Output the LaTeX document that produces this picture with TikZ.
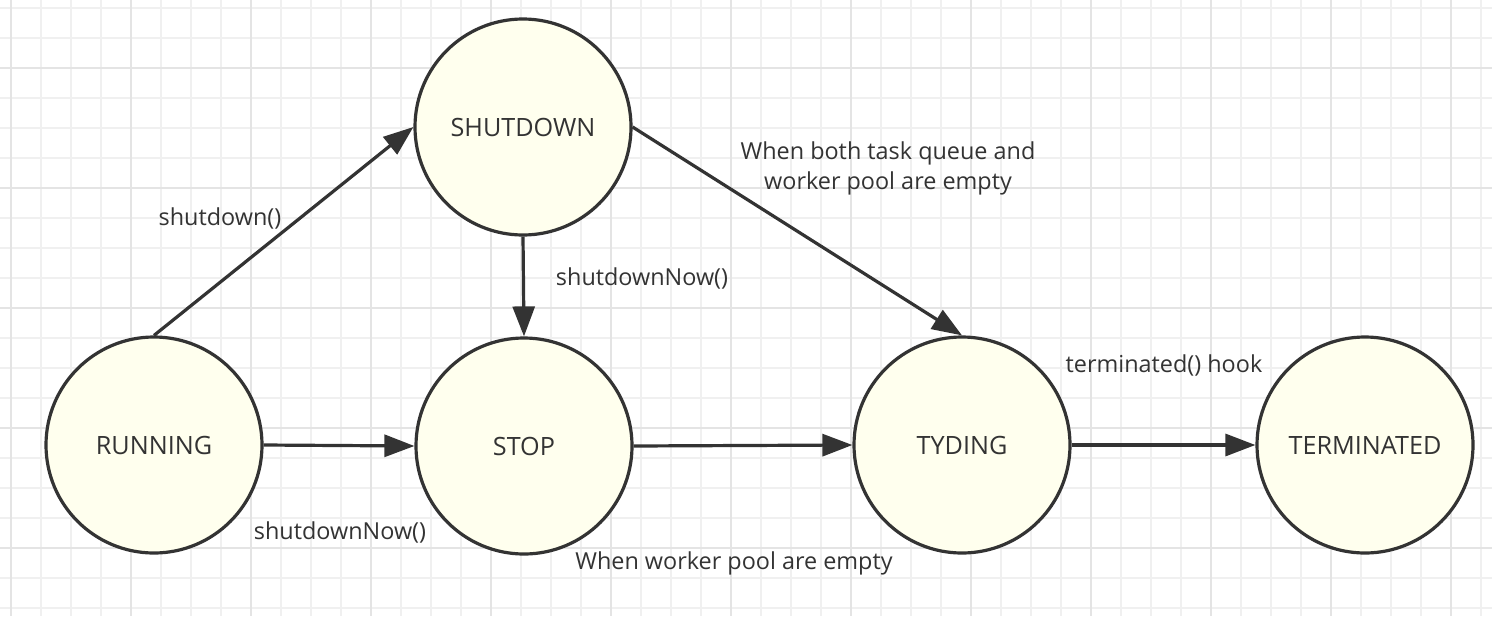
\documentclass[tikz,border=0pt]{standalone}
\usepackage{fontspec}
\setmainfont{Open Sans}
\usetikzlibrary{arrows.meta}
\definecolor{gridminor}{RGB}{240,240,240}
\definecolor{gridmajor}{RGB}{228,228,228}
\definecolor{statefill}{RGB}{255,255,238}
\definecolor{ink}{RGB}{51,51,51}
\begin{document}
\begin{tikzpicture}[x=0.5pt,y=-0.5pt,
  state/.style={circle,draw=ink,line width=1.6pt,fill=statefill,minimum size=108pt,inner sep=0pt,font=\fontsize{12.6}{14}\selectfont,text=ink},
  lbl/.style={font=\fontsize{11.7}{15}\selectfont,text=ink,inner sep=0pt,align=center},
  trans/.style={draw=ink,line width=1.6pt,-{Triangle[length=15pt,width=11pt]}},
  gridline/.style={line width=1pt}]
\fill[white] (0,0) rectangle (1492,616);
\useasboundingbox (0,0) rectangle (1492,616);
\foreach \x in {11,41,...,1491} \draw[gridminor,gridline] (\x,0) -- (\x,616);
\foreach \y in {8,38,...,616} \draw[gridminor,gridline] (0,\y) -- (1492,\y);
\foreach \x in {11,131,...,1491} \draw[gridmajor,gridline] (\x,0) -- (\x,616);
\foreach \y in {68,188,...,616} \draw[gridmajor,gridline] (0,\y) -- (1492,\y);

\node[state] (running) at (154,445) {RUNNING};
\node[state] (shutdown) at (523,127) {SHUTDOWN};
\node[state] (stop) at (524,446) {STOP};
\node[state] (tyding) at (962,445) {TYDING};
\node[state] (terminated) at (1365,445) {TERMINATED};

\draw[trans] (running.north) -- (shutdown.west);
\draw[trans] (running.east) -- (stop.west);
\draw[trans] (shutdown.south) -- (stop.north);
\draw[trans] (shutdown.east) -- (tyding.north);
\draw[trans] (stop.east) -- (tyding.west);
\draw[trans] (tyding.east) -- (terminated.west);

\node[lbl] (l1) at (220,218) {shutdown()};
\node[lbl] (l2) at (642,278) {shutdownNow()};
\node[lbl] (l3) at (340,532) {shutdownNow()};
\node[lbl] (l4) at (888,168) {When both task queue and\\worker pool are empty};
\node[lbl] (l5) at (1164,365) {terminated() hook};
\node[lbl] (l6) at (734,563) {When worker pool are empty};
\end{tikzpicture}
\end{document}
